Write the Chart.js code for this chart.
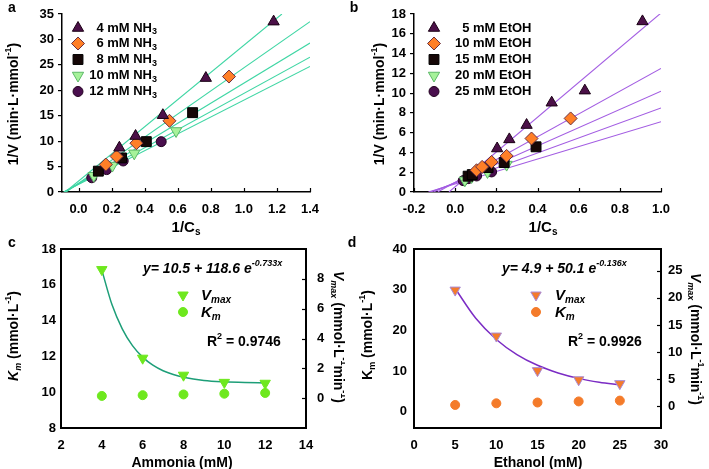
<!DOCTYPE html>
<html><head><meta charset="utf-8">
<script src="https://cdn.jsdelivr.net/npm/chart.js@4.4.1/dist/chart.umd.min.js"></script>
<style>
html,body{margin:0;padding:0;background:#fff;}
#wrap{position:relative;width:709px;height:469px;background:#fff;overflow:hidden;}
canvas{position:absolute;}
</style></head><body>
<div id="wrap">
<canvas id="ca" width="345" height="235" style="left:0;top:0"></canvas>
<canvas id="cb" width="364" height="235" style="left:345px;top:0"></canvas>
<canvas id="cc" width="345" height="234" style="left:0;top:235px"></canvas>
<canvas id="cd" width="364" height="234" style="left:345px;top:235px"></canvas>
</div>
<script>
// ---------- Panel a : Lineweaver-Burk, ammonia ----------
const aLabels = ['4 mM NH_{3}', '6 mM NH_{3}', '8 mM NH_{3}', '10 mM NH_{3}', '12 mM NH_{3}'];
const aX4 = [0.247, 0.345, 0.51, 0.77, 1.18];
const aY4 = [8.7, 11.0, 15.1, 22.4, 33.5];
const aX6 = [0.165, 0.23, 0.35, 0.55, 0.91];
const aY6 = [5.4, 7.0, 9.6, 14.0, 22.7];
const aX8 = [0.12, 0.26, 0.41, 0.69];
const aY8 = [4.1, 6.7, 9.9, 15.6];
const aX10 = [0.092, 0.205, 0.337, 0.59];
const aY10 = [3.2, 5.2, 7.6, 12.0];
const aX12 = [0.08, 0.17, 0.27, 0.5];
const aY12 = [2.8, 4.4, 6.1, 9.9];
// fitted lines: start (x0, 0) -> end (x1, y1)
const aFitX0 = [-0.08, -0.075, -0.085, -0.088, -0.09];
const aFitX1 = [1.23, 1.4, 1.4, 1.4, 1.4];
const aFitY1 = [35, 33.5, 29.3, 26.5, 24.7];
const aXTicks = [0, 0.2, 0.4, 0.6, 0.8, 1.0, 1.2, 1.4];
const aYTicks = [0, 5, 10, 15, 20, 25, 30, 35];

// ---------- Panel b : Lineweaver-Burk, ethanol ----------
const bLabels = ['5 mM EtOH', '10 mM EtOH', '15 mM EtOH', '20 mM EtOH', '25 mM EtOH'];
const bX5 = [0.204, 0.263, 0.347, 0.469, 0.63, 0.91];
const bY5 = [4.4, 5.32, 6.77, 9.03, 10.25, 17.25];
const bX10 = [0.104, 0.131, 0.177, 0.25, 0.371, 0.561];
const bY10 = [2.2, 2.54, 3.04, 3.65, 5.41, 7.44];
const bX15 = [0.063, 0.083, 0.16, 0.238, 0.393];
const bY15 = [1.6, 1.76, 2.47, 2.98, 4.57];
const bX20 = [0.047, 0.08, 0.157, 0.25];
const bY20 = [1.18, 1.52, 2.03, 2.77];
const bX25 = [0.039, 0.063, 0.104, 0.177];
const bY25 = [1.15, 1.35, 1.62, 2.03];
const bFitX0 = [-0.03, -0.085, -0.105, -0.12, -0.13];
const bFitX1 = [1.0, 1.0, 1.0, 1.0, 1.0];
const bFitY1 = [18.1, 12.5, 10.2, 8.5, 7.1];
const bXTicks = [-0.2, 0, 0.2, 0.4, 0.6, 0.8, 1.0];
const bYTicks = [0, 2, 4, 6, 8, 10, 12, 14, 16, 18];

// ---------- Panel c : ammonia kinetics ----------
const cX = [4, 6, 8, 10, 12];
const cVmax = [16.85, 11.9, 10.95, 10.55, 10.5];      // read on left axis scale
const cKm = [0.15, 0.2, 0.25, 0.3, 0.35];             // read on right axis scale
const cFitX = [4, 4.5, 5, 5.5, 6, 6.5, 7, 7.5, 8, 9, 10, 11, 12];
const cFitY = [16.82, 14.88, 13.54, 12.6, 11.96, 11.51, 11.2, 10.99, 10.84, 10.66, 10.58, 10.54, 10.52];
const cXTicks = [2, 4, 6, 8, 10, 12, 14];
const cYTicks = [8, 10, 12, 14, 16, 18];
const cY2Ticks = [0, 2, 4, 6, 8];

// ---------- Panel d : ethanol kinetics ----------
const dX = [5, 10, 15, 20, 25];
const dVmax = [29.9, 18.6, 10.1, 7.85, 6.9];
const dKm = [0.25, 0.55, 0.7, 0.9, 1.05];
const dFitX = [5, 7.5, 10, 12.5, 15, 17.5, 20, 22.5, 25];
const dFitY = [30.28, 22.97, 17.76, 14.05, 11.41, 9.54, 8.2, 7.25, 6.57];
const dXTicks = [0, 5, 10, 15, 20, 25, 30];
const dYTicks = [0, 10, 20, 30, 40];
const dY2Ticks = [0, 5, 10, 15, 20, 25];

// ---------- helpers ----------
const FAM = '"Liberation Sans", Arial, Helvetica, sans-serif';
const tickFont = () => ({family: FAM, size: 13, weight: 'bold'});
const pt = (xs, ys) => xs.map((x, i) => ({x: x, y: ys[i]}));

const seriesStyle = [
  {pointStyle: 'triangle', radius: 6.5, rotation: 0, bg: '#4b1048', bd: '#1a0014'},
  {pointStyle: 'rectRot', radius: 6.5, rotation: 0, bg: '#ff7f27', bd: '#6a3040'},
  {pointStyle: 'rect', radius: 7, rotation: 0, bg: '#160707', bd: '#000000'},
  {pointStyle: 'triangle', radius: 6.5, rotation: 180, bg: '#a6f29a', bd: '#5cb868'},
  {pointStyle: 'circle', radius: 5, rotation: 0, bg: '#4a0f4e', bd: '#22001f'}
];

function parseRich(str) {
  const segs = []; let i = 0, italic = false, buf = '';
  const push = (t, mode) => { if (t) segs.push({t: t, sub: mode === 'sub', sup: mode === 'sup', italic: italic}); };
  while (i < str.length) {
    const c = str[i];
    if (c === '*') { push(buf); buf = ''; italic = !italic; i++; }
    else if ((c === '^' || c === '_') && str[i + 1] === '{') {
      push(buf); buf = '';
      const j = str.indexOf('}', i);
      push(str.slice(i + 2, j), c === '^' ? 'sup' : 'sub');
      i = j + 1;
    } else { buf += c; i++; }
  }
  push(buf);
  return segs;
}

function drawRich(ctx, item) {
  const size = item.size || 14;
  const segs = parseRich(item.s);
  const fontFor = s => (s.italic ? 'italic ' : '') + 'bold ' + ((s.sub || s.sup) ? Math.round(size * 0.66) : size) + 'px ' + FAM;
  let w = 0;
  segs.forEach(s => { ctx.font = fontFor(s); s.w = ctx.measureText(s.t).width; w += s.w; });
  ctx.save();
  ctx.translate(item.x, item.y);
  if (item.rot) ctx.rotate(item.rot * Math.PI / 180);
  let cx = item.align === 'left' ? 0 : item.align === 'right' ? -w : -w / 2;
  ctx.textBaseline = 'middle';
  ctx.textAlign = 'left';
  ctx.fillStyle = '#000';
  segs.forEach(s => {
    ctx.font = fontFor(s);
    const dy = s.sup ? -size * 0.36 : s.sub ? size * 0.3 : 0;
    ctx.fillText(s.t, cx, dy);
    cx += s.w;
  });
  ctx.restore();
}

function drawMarker(ctx, ds, x, y) {
  ctx.save();
  ctx.fillStyle = ds.backgroundColor; ctx.strokeStyle = ds.borderColor; ctx.lineWidth = ds.borderWidth || 1;
  Chart.helpers.drawPoint(ctx, {pointStyle: ds.pointStyle, radius: ds.pointRadius, rotation: ds.rotation || 0, borderWidth: ds.borderWidth || 1}, x, y);
  ctx.restore();
}

function framePlugin(cfg) {
  return {
    id: 'framer',
    beforeDatasetsDraw(chart) {
      const ctx = chart.ctx, ca = chart.chartArea;
      ctx.save();
      ctx.setLineDash([]);
      ctx.globalAlpha = 1;
      ctx.strokeStyle = '#000000';
      if (cfg.box) {
        ctx.lineWidth = 2;
        ctx.strokeRect(ca.left, ca.top, ca.right - ca.left, ca.bottom - ca.top);
      }
      ctx.lineWidth = 1.2;
      if (cfg.inTicksX) {
        const s = chart.scales.x;
        s.ticks.forEach(t => {
          const px = Math.round(s.getPixelForValue(t.value)) + 0.5;
          ctx.beginPath(); ctx.moveTo(px, ca.bottom); ctx.lineTo(px, ca.bottom - cfg.inTicksX); ctx.stroke();
        });
      }
      if (cfg.inTicksY2) {
        const s = chart.scales.y2;
        s.ticks.forEach(t => {
          const py = Math.round(s.getPixelForValue(t.value)) + 0.5;
          ctx.beginPath(); ctx.moveTo(ca.right, py); ctx.lineTo(ca.right - cfg.inTicksY2, py); ctx.stroke();
        });
      }
      ctx.restore();
    }
  };
}

function decor(cfg) {
  return {
    id: 'decor',
    afterDraw(chart) {
      const ctx = chart.ctx;
      (cfg.markers || []).forEach(m => drawMarker(ctx, chart.data.datasets[m.ds], m.x, m.y));
      (cfg.texts || []).forEach(t => drawRich(ctx, t));
    }
  };
}

function fixedTicks(arr) { return s => { s.ticks = arr.map(v => ({value: v})); }; }
function fitH(h) { return s => { s.height = h; s.paddingLeft = 0; s.paddingRight = 0; s.paddingTop = 0; s.paddingBottom = 0; }; }
function fitW(w) { return s => { s.width = w; s.paddingLeft = 0; s.paddingRight = 0; s.paddingTop = 0; s.paddingBottom = 0; }; }

function lineDs(x0, x1, y1, color, width) {
  return {data: [{x: x0, y: 0}, {x: x1, y: y1}], showLine: true, borderColor: color, borderWidth: width,
          pointRadius: 0, fill: false, order: 10};
}
function ptDs(xs, ys, st) {
  return {data: pt(xs, ys), pointStyle: st.pointStyle, pointRadius: st.radius, rotation: st.rotation,
          backgroundColor: st.bg, borderColor: st.bd, borderWidth: 1, showLine: false, order: 0};
}

const noGrid = () => ({display: true, drawOnChartArea: false, drawTicks: false});
const axBorder = () => ({display: true, color: '#000', width: 1.5});

function lbOptions(xMin, xMax, xTicks, yMin, yMax, yTicks, yWidth, rightPad) {
  return {
    responsive: false, animation: false, events: [],
    layout: {padding: {left: 0, right: rightPad, top: 14, bottom: 0}},
    plugins: {legend: {display: false}, tooltip: {enabled: false}},
    scales: {
      x: {type: 'linear', min: xMin, max: xMax, afterBuildTicks: fixedTicks(xTicks), afterFit: fitH(43),
          ticks: {font: tickFont(), color: '#000', padding: 10, maxRotation: 0, autoSkip: false, callback: v => Number(v).toFixed(1)},
          grid: noGrid(), border: axBorder()},
      y: {type: 'linear', min: yMin, max: yMax, afterBuildTicks: fixedTicks(yTicks), afterFit: fitW(yWidth),
          ticks: {font: tickFont(), color: '#000', padding: 4, autoSkip: false},
          grid: {display: true, drawOnChartArea: false, drawTicks: true, tickLength: 4, color: '#000', lineWidth: 1.2},
          border: axBorder()}
    }
  };
}

// ---------- Chart a ----------
const aXs = [aX4, aX6, aX8, aX10, aX12], aYs = [aY4, aY6, aY8, aY10, aY12];
const aDatasets = [];
aXs.forEach((xs, i) => aDatasets.push(ptDs(xs, aYs[i], seriesStyle[i])));
aFitX0.forEach((x0, i) => aDatasets.push(lineDs(x0, aFitX1[i], aFitY1[i], '#3fd6a4', 1.1)));
const legRows = [28, 43.5, 59.5, 75.5, 91.5];
new Chart(document.getElementById('ca'), {
  type: 'scatter',
  data: {datasets: aDatasets},
  options: lbOptions(-0.1, 1.4, aXTicks, 0, 35, aYTicks, 62, 35),
  plugins: [framePlugin({inTicksX: 4}), decor({
    markers: legRows.map((y, i) => ({ds: i, x: 78, y: y})),
    texts: [
      {s: 'a', x: 12, y: 8, size: 14},
      {s: '1/V (min·L·mmol^{-1})', x: 14, y: 104, size: 14, rot: -90},
      {s: '1/C_{s}', x: 186, y: 228, size: 15}
    ].concat(aLabels.map((l, i) => ({s: l, x: 157, y: legRows[i], size: 13, align: 'right'})))
  })]
});

// ---------- Chart b ----------
const bXs = [bX5, bX10, bX15, bX20, bX25], bYs = [bY5, bY10, bY15, bY20, bY25];
const bDatasets = [];
bXs.forEach((xs, i) => bDatasets.push(ptDs(xs, bYs[i], seriesStyle[i])));
bFitX0.forEach((x0, i) => bDatasets.push(lineDs(x0, bFitX1[i], bFitY1[i], '#a35de2', 1.1)));
new Chart(document.getElementById('cb'), {
  type: 'scatter',
  data: {datasets: bDatasets},
  options: lbOptions(-0.2, 1.0, bXTicks, 0, 18, bYTicks, 69, 48),
  plugins: [framePlugin({inTicksX: 4}), decor({
    markers: legRows.map((y, i) => ({ds: i, x: 89, y: y})),
    texts: [
      {s: 'b', x: 9, y: 8, size: 14},
      {s: '1/V (min·L·mmol^{-1})', x: 35, y: 104, size: 14, rot: -90},
      {s: '1/C_{s}', x: 198, y: 228, size: 15}
    ].concat(bLabels.map((l, i) => ({s: l, x: 186.5, y: legRows[i], size: 13, align: 'right'})))
  })]
});

// ---------- kinetics option builder ----------
const frameBorder = () => ({display: true, color: '#000', width: 2});
function kinOptions(xMin, xMax, xTicks, yMin, yMax, yTicks, y2Min, y2Max, y2Ticks, yWidth, y2Width, yPad, y2Pad) {
  return {
    responsive: false, animation: false, events: [],
    layout: {padding: {left: 0, right: 0, top: 14, bottom: 0}},
    plugins: {legend: {display: false}, tooltip: {enabled: false}},
    scales: {
      x: {type: 'linear', min: xMin, max: xMax, afterBuildTicks: fixedTicks(xTicks), afterFit: fitH(41),
          ticks: {font: tickFont(), color: '#000', padding: 10, maxRotation: 0, autoSkip: false},
          grid: noGrid(), border: frameBorder()},
      y: {type: 'linear', position: 'left', min: yMin, max: yMax, afterBuildTicks: fixedTicks(yTicks), afterFit: fitW(yWidth),
          ticks: {font: tickFont(), color: '#000', padding: yPad, autoSkip: false},
          grid: noGrid(), border: frameBorder()},
      y2: {type: 'linear', position: 'right', min: y2Min, max: y2Max, afterBuildTicks: fixedTicks(y2Ticks), afterFit: fitW(y2Width),
          ticks: {font: tickFont(), color: '#000', padding: y2Pad, autoSkip: false},
          grid: noGrid(), border: frameBorder()}
    }
  };
}

// ---------- Chart c ----------
new Chart(document.getElementById('cc'), {
  type: 'scatter',
  data: {datasets: [
    {data: pt(cX, cVmax), yAxisID: 'y', pointStyle: 'triangle', rotation: 180, pointRadius: 6,
     backgroundColor: '#6ee81e', borderColor: '#6ee81e', borderWidth: 1, order: 0},
    {data: pt(cX, cKm), yAxisID: 'y2', pointStyle: 'circle', pointRadius: 4.5,
     backgroundColor: '#6ee81e', borderColor: '#6ee81e', borderWidth: 1, order: 1},
    {data: pt(cFitX, cFitY), yAxisID: 'y', showLine: true, borderColor: '#1d9e78', borderWidth: 1.5,
     pointRadius: 0, cubicInterpolationMode: 'monotone', order: 5}
  ]},
  options: kinOptions(2, 14, cXTicks, 8, 18, cYTicks, -2, 10, cY2Ticks, 61, 39, 5, 11),
  plugins: [framePlugin({box: true, inTicksY2: 4}), decor({
    markers: [{ds: 0, x: 183, y: 60}, {ds: 1, x: 183, y: 77}],
    texts: [
      {s: 'c', x: 12, y: 8, size: 14},
      {s: '*K_{m}* (mmol·L^{-1})', x: 14, y: 101, size: 14, rot: -90},
      {s: '*V_{max}* (mmol·L^{-1}min^{-1})', x: 338, y: 102, size: 14, rot: 90},
      {s: 'Ammonia (mM)', x: 182, y: 228, size: 14},
      {s: '*y= 10.5 + 118.6 e^{-0.733x}*', x: 143, y: 34, size: 14, align: 'left'},
      {s: '*V_{max}*', x: 201, y: 61, size: 15, align: 'left'},
      {s: '*K_{m}*', x: 201, y: 78, size: 15, align: 'left'},
      {s: 'R^{2} = 0.9746', x: 207, y: 107, size: 14, align: 'left'}
    ]
  })]
});

// ---------- Chart d ----------
new Chart(document.getElementById('cd'), {
  type: 'scatter',
  data: {datasets: [
    {data: pt(dX, dVmax), yAxisID: 'y', pointStyle: 'triangle', rotation: 180, pointRadius: 6,
     backgroundColor: '#f47b2a', borderColor: '#a98bd6', borderWidth: 1, order: 0},
    {data: pt(dX, dKm), yAxisID: 'y2', pointStyle: 'circle', pointRadius: 4.5,
     backgroundColor: '#f47b2a', borderColor: '#f47b2a', borderWidth: 1, order: 1},
    {data: pt(dFitX, dFitY), yAxisID: 'y', showLine: true, borderColor: '#7b2cc4', borderWidth: 1.5,
     pointRadius: 0, cubicInterpolationMode: 'monotone', order: 5}
  ]},
  options: kinOptions(0, 30, dXTicks, -4, 40, dYTicks, -4, 29, dY2Ticks, 69, 48, 7, 7),
  plugins: [framePlugin({box: true, inTicksY2: 4}), decor({
    markers: [{ds: 0, x: 191, y: 60}, {ds: 1, x: 191, y: 77}],
    texts: [
      {s: 'd', x: 7, y: 8, size: 14},
      {s: 'K_{m} (mmol·L^{-1})', x: 23, y: 100, size: 14, rot: -90},
      {s: '*V_{max}* (mmol·L^{-1}min^{-1})', x: 350, y: 104, size: 14, rot: 90},
      {s: 'Ethanol (mM)', x: 193, y: 228, size: 14},
      {s: '*y= 4.9 + 50.1 e^{-0.136x}*', x: 157, y: 34, size: 14, align: 'left'},
      {s: '*V_{max}*', x: 210, y: 61, size: 15, align: 'left'},
      {s: '*K_{m}*', x: 210, y: 78, size: 15, align: 'left'},
      {s: 'R^{2} = 0.9926', x: 223, y: 107, size: 14, align: 'left'}
    ]
  })]
});
</script>
</body></html>
